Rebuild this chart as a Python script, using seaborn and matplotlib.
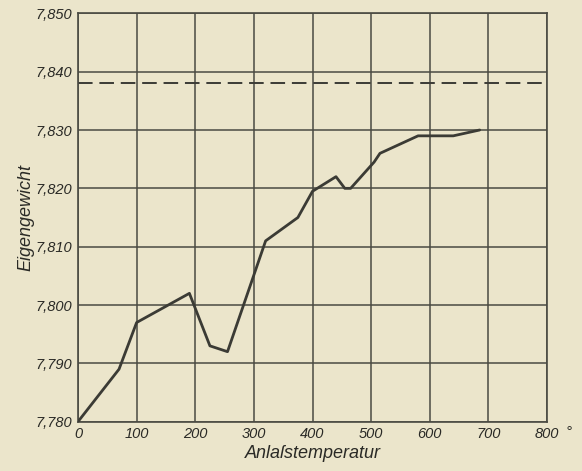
import pandas as pd
import seaborn as sns
import matplotlib.pyplot as plt

# Anlasstemperatur (deg C) vs. Eigengewicht
temperature = [0, 70, 100, 190, 225, 255, 320, 375, 400, 440, 455, 465, 505, 515, 580, 640, 685]
density = [7.780, 7.789, 7.797, 7.802, 7.793, 7.792, 7.811, 7.815, 7.8195, 7.822, 7.820,
           7.820, 7.8245, 7.826, 7.829, 7.829, 7.830]
reference_density = 7.838

x_ticks = [0, 100, 200, 300, 400, 500, 600, 700, 800]
y_ticks = [7.780, 7.790, 7.800, 7.810, 7.820, 7.830, 7.840, 7.850]
y_tick_labels = ["7,780", "7,790", "7,800", "7,810", "7,820", "7,830", "7,840", "7,850"]

paper = "#ebe5cb"
ink = "#3b3b35"

sns.set_style("white", {"axes.facecolor": paper, "figure.facecolor": paper})
plt.rcParams["font.family"] = ["Liberation Sans", "DejaVu Sans"]

df = pd.DataFrame({"temp": temperature, "dens": density})

fig = plt.figure(figsize=(5.82, 4.71), dpi=100)
ax = fig.add_axes([0.134, 0.1047, 0.806, 0.867])

ax.axhline(reference_density, color=ink, lw=1.4, ls=(0, (7.5, 3.5)), zorder=2)
sns.lineplot(data=df, x="temp", y="dens", color=ink, lw=2.0, ax=ax, zorder=3)

ax.set_xlim(0, 800)
ax.set_ylim(7.780, 7.850)
ax.set_xticks(x_ticks)
ax.set_yticks(y_ticks)
ax.set_yticklabels(y_tick_labels)
ax.grid(True, color="#4a4a42", lw=1.1)
for s in ax.spines.values():
    s.set_color("#4a4a42")
    s.set_linewidth(1.2)
ax.tick_params(length=0, pad=4, labelsize=10.5, colors="#2a2a26")
for lab in ax.get_xticklabels() + ax.get_yticklabels():
    lab.set_style("italic")

ax.text(1.045, -0.026, "°", transform=ax.transAxes, fontsize=11, style="italic",
        color="#2a2a26", ha="center", va="center")

ax.set_xlabel("Anlaſstemperatur", fontsize=13, style="italic", color="#2a2a26", labelpad=3)
ax.set_ylabel("Eigengewicht", fontsize=13, style="italic", color="#2a2a26", labelpad=1)

fig.savefig("out.png", dpi=100, facecolor=paper)
